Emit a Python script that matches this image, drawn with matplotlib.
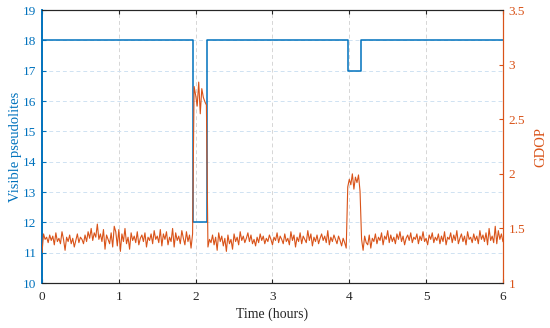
import numpy as np
import matplotlib
matplotlib.use("Agg")
import matplotlib.pyplot as plt

# Visible pseudolites (step series)
vis_time = [0, 1.97, 1.97, 2.15, 2.15, 3.98, 3.98, 4.15, 4.15, 6]
vis_count = [18, 18, 12, 12, 18, 18, 17, 17, 18, 18]

# GDOP sampled every 0.02 h from 0 to 6 h
gdop = [
    1.28, 1.45, 1.40, 1.42, 1.37, 1.44, 1.39, 1.43, 1.35, 1.46, 1.38, 1.41, 1.36, 1.47, 1.40, 1.30, 1.42, 1.38, 1.44, 1.36,
    1.41, 1.33, 1.39, 1.45, 1.37, 1.42, 1.40, 1.36, 1.44, 1.38, 1.47, 1.41, 1.50, 1.39, 1.46, 1.42, 1.54, 1.40, 1.45, 1.38,
    1.49, 1.31, 1.44, 1.40, 1.36, 1.46, 1.33, 1.52, 1.47, 1.34, 1.49, 1.29, 1.45, 1.38, 1.50, 1.36, 1.42, 1.31, 1.46, 1.39,
    1.43, 1.37, 1.47, 1.35, 1.41, 1.44, 1.38, 1.46, 1.33, 1.42, 1.39, 1.45, 1.36, 1.48, 1.40, 1.43, 1.37, 1.49, 1.34, 1.45,
    1.40, 1.47, 1.35, 1.42, 1.38, 1.50, 1.33, 1.46, 1.39, 1.43, 1.36, 1.48, 1.41, 1.35, 1.47, 1.38, 1.44, 1.32, 1.45, 2.80,
    2.72, 2.62, 2.84, 2.55, 2.78, 2.70, 2.66, 2.63, 1.33, 1.40, 1.37, 1.44, 1.35, 1.42, 1.30, 1.46, 1.38, 1.43, 1.34, 1.41,
    1.29, 1.44, 1.36, 1.40, 1.31, 1.45, 1.38, 1.42, 1.35, 1.47, 1.39, 1.43, 1.37, 1.41, 1.46, 1.38, 1.44, 1.36, 1.40, 1.34,
    1.42, 1.37, 1.45, 1.39, 1.43, 1.36, 1.41, 1.38, 1.44, 1.40, 1.35, 1.42, 1.39, 1.46, 1.37, 1.43, 1.40, 1.36, 1.45, 1.38,
    1.41, 1.35, 1.47, 1.39, 1.44, 1.33, 1.42, 1.38, 1.46, 1.36, 1.43, 1.40, 1.37, 1.48, 1.39, 1.45, 1.34, 1.42, 1.38, 1.44,
    1.36, 1.41, 1.45, 1.39, 1.43, 1.37, 1.48, 1.35, 1.42, 1.38, 1.44, 1.40, 1.36, 1.43, 1.39, 1.34, 1.41, 1.37, 1.32, 1.88,
    1.95, 1.90, 2.00, 1.86, 1.97, 1.92, 1.99, 1.84, 1.40, 1.30, 1.43, 1.37, 1.35, 1.44, 1.32, 1.41, 1.38, 1.45, 1.36, 1.42,
    1.39, 1.46, 1.35, 1.43, 1.40, 1.48, 1.37, 1.44, 1.38, 1.42, 1.36, 1.45, 1.40, 1.47, 1.38, 1.43, 1.35, 1.41, 1.44, 1.39,
    1.46, 1.37, 1.42, 1.40, 1.45, 1.36, 1.43, 1.39, 1.47, 1.38, 1.41, 1.35, 1.44, 1.40, 1.46, 1.37, 1.42, 1.39, 1.45, 1.36,
    1.43, 1.38, 1.47, 1.35, 1.42, 1.40, 1.46, 1.37, 1.44, 1.39, 1.48, 1.36, 1.41, 1.45, 1.38, 1.43, 1.35, 1.47, 1.40, 1.42,
    1.37, 1.45, 1.39, 1.43, 1.36, 1.48, 1.40, 1.44, 1.38, 1.46, 1.35, 1.50, 1.39, 1.43, 1.37, 1.52, 1.36, 1.48, 1.40, 1.45,
    1.38,
]
gdop_time = np.linspace(0, 6, len(gdop))

x_ticks = [0, 1, 2, 3, 4, 5, 6]
left_ticks = [10, 11, 12, 13, 14, 15, 16, 17, 18, 19]
right_ticks = [1, 1.5, 2, 2.5, 3, 3.5]
right_labels = ["1", "1.5", "2", "2.5", "3", "3.5"]

BLUE = "#0072BD"
ORANGE = "#D95319"

plt.rcParams["font.family"] = ["Liberation Serif", "DejaVu Serif"]
plt.rcParams["font.size"] = 9.5

fig = plt.figure(figsize=(5.5, 3.28), dpi=100)
ax = fig.add_axes([0.0764, 0.137, 0.838, 0.8325])
ax2 = ax.twinx()

ax.plot(vis_time, vis_count, color=BLUE, lw=1.1, zorder=3)
ax2.plot(gdop_time, gdop, color=ORANGE, lw=0.8, zorder=3)

ax.set_xlim(0, 6)
ax.set_ylim(10, 19)
ax2.set_ylim(1, 3.5)
ax.set_xticks(x_ticks)
ax.set_yticks(left_ticks)
ax2.set_yticks(right_ticks)
ax2.set_yticklabels(right_labels)

ax.xaxis.grid(True, color="#d6d6d6", linestyle=(0, (4, 3)), lw=0.7)
ax.yaxis.grid(True, color="#cfe2f2", linestyle=(0, (4, 3)), lw=0.7)
ax.set_axisbelow(True)

ax.tick_params(axis="x", direction="in", top=True, length=3, colors="#262626", pad=6)
ax.tick_params(axis="y", direction="in", length=3, colors=BLUE, labelcolor=BLUE, pad=4)
ax2.tick_params(axis="y", direction="in", length=3, colors=ORANGE, labelcolor=ORANGE, pad=4)

for sp in ["top", "bottom"]:
    ax.spines[sp].set_color("#262626")
    ax2.spines[sp].set_color("#262626")
ax.spines["left"].set_color(BLUE)
ax2.spines["left"].set_color(BLUE)
ax.spines["right"].set_color(ORANGE)
ax2.spines["right"].set_color(ORANGE)
for a in (ax, ax2):
    for sp in a.spines.values():
        sp.set_linewidth(0.8)
    a.spines["left"].set_linewidth(1.2)

ax.set_xlabel("Time (hours)", color="#262626", fontsize=10, labelpad=3)
ax.set_ylabel("Visible pseudolites", color=BLUE, fontsize=10.5, labelpad=1)
ax2.set_ylabel("GDOP", color=ORANGE, fontsize=10.5, labelpad=7)

fig.savefig("out.png", dpi=100)
